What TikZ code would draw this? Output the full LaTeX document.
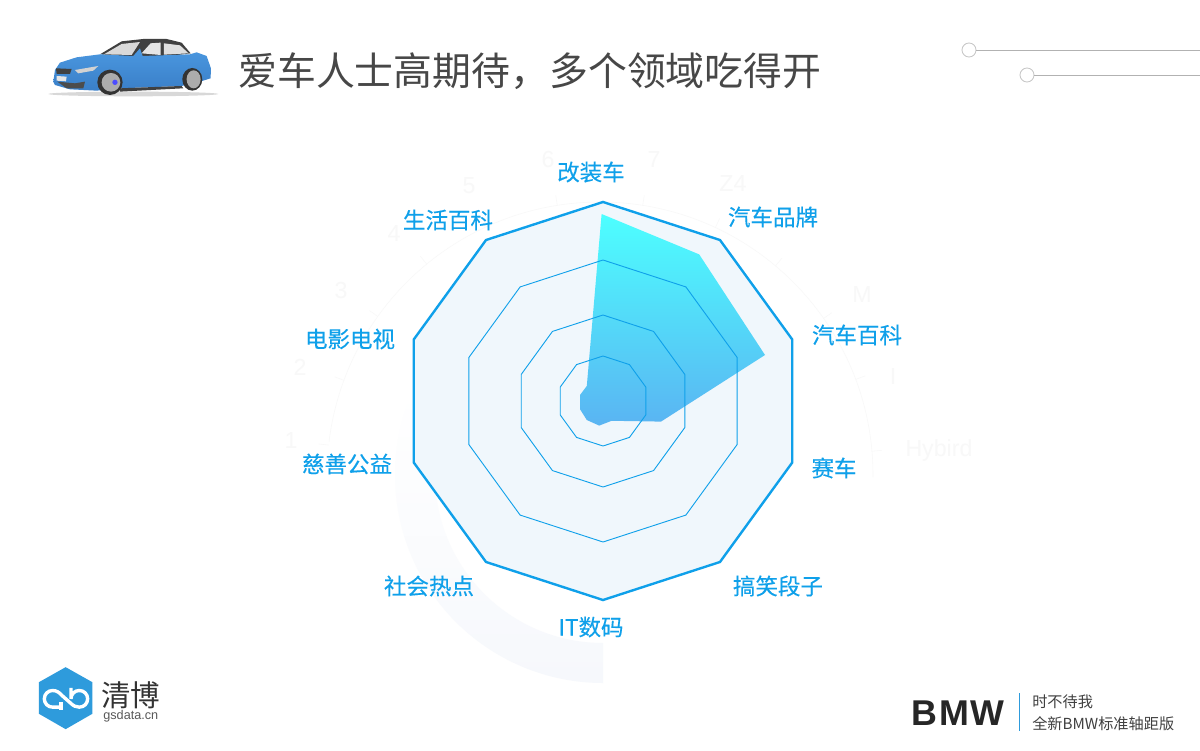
\documentclass[tikz,border=0pt]{standalone}
\usepackage{fontspec}
\setmainfont{Noto Sans CJK SC}
\newfontfamily\latinfont{Liberation Sans}
\newfontfamily\labelfont[FakeBold=0.3]{Noto Sans CJK SC}
\newfontfamily\bmwfont[LetterSpace=5]{Liberation Sans}
\usepackage{xcolor}
\usepackage{tikz}
\definecolor{radarblue}{HTML}{0FA0EA}
\definecolor{radarfill}{HTML}{F0F7FC}
\definecolor{faintgray}{HTML}{F8F8F8}
\definecolor{ringgray}{HTML}{F6F8FC}
\definecolor{logoblue}{HTML}{2E9BDC}
\definecolor{carblue}{HTML}{4B98E0}
\definecolor{cardark}{HTML}{3A7FC8}
\definecolor{topcyan}{HTML}{4DFFFF}
\definecolor{lowblue}{HTML}{5AB4F2}
\tikzset{
  axislabel/.style={text=radarblue,inner sep=0pt,font=\labelfont\fontsize{16}{16}\selectfont},
  faintlabel/.style={text=faintgray,inner sep=0pt,font=\latinfont\fontsize{16.5}{16}\selectfont},
  dotnode/.style={circle,draw=gray!45,fill=white,line width=0.6pt,minimum size=0.35cm,inner sep=0pt},
  dotline/.style={gray!60,line width=0.6pt}
}
\begin{document}
\begin{tikzpicture}
\useasboundingbox (0,0) rectangle (30,18.75);
\fill[white] (0,0) rectangle (30,18.75);
% pale ring behind the radar
\begin{scope}[shift={(15.075,6.875)}]
\shade[top color=white,middle color=ringgray,bottom color=ringgray] (155:5.2) arc[start angle=155,end angle=270,radius=5.2] -- (270:4.2) arc[start angle=270,end angle=155,radius=4.2] -- cycle;
\end{scope}
% faint dial
\begin{scope}[shift={(15,6.875)}]
\draw[faintgray,thin] (-0.5:6.825) arc[start angle=-0.5,end angle=173,radius=6.825];
\foreach \a in {5,20.5,35,50,65,81,99,114.5,129.4,144.5,159.7,173.7}
  \draw[faintgray,thin] (\a:6.825) -- (\a:7.075);
\end{scope}
\node[faintlabel] (one) at (7.275,7.725) {1};
\node[faintlabel] (two) at (7.5,9.575) {2};
\node[faintlabel] (three) at (8.525,11.475) {3};
\node[faintlabel] (four) at (9.85,12.9) {4};
\node[faintlabel] (five) at (11.725,14.1) {5};
\node[faintlabel] (six) at (13.7,14.75) {6};
\node[faintlabel] (seven) at (16.35,14.75) {7};
\node[faintlabel] (zfour) at (18.325,14.15) {Z4};
\node[faintlabel] (em) at (21.55,11.375) {M};
\node[faintlabel] (eye) at (22.325,9.325) {I};
\node[faintlabel] (hybird) at (23.475,7.5) {Hybird};
% radar
\begin{scope}[shift={(15.075,8.725)}]
\fill[radarfill] (90:4.975) \foreach \a in {54,18,...,-234} {-- (\a:4.975)} -- cycle;
\end{scope}
\shade[top color=topcyan,bottom color=lowblue] (15.04,13.4) -- (17.48,12.39) -- (19.125,9.875) -- (16.525,8.21) -- (15.29,8.23) -- (14.98,8.11) -- (14.67,8.25) -- (14.5,8.52) -- (14.5,8.875) -- (14.67,9.1) -- cycle;
\begin{scope}[shift={(15.075,8.725)}]
\draw[radarblue,line width=1.7pt] (90:4.975) \foreach \a in {54,18,...,-234} {-- (\a:4.975)} -- cycle;
\foreach \r in {3.525,2.15,1.125}
  \draw[radarblue,line width=0.65pt] (90:\r) \foreach \a in {54,18,...,-234} {-- (\a:\r)} -- cycle;
\end{scope}
\node[axislabel] (gaizhuang) at (14.775,14.45) {改装车};
\node[axislabel] (pinpai) at (19.325,13.325) {汽车品牌};
\node[axislabel] (baike) at (21.425,10.375) {汽车百科};
\node[axislabel] (saiche) at (20.85,7.05) {赛车};
\node[axislabel] (gaoxiao) at (19.45,4.1) {搞笑段子};
\node[axislabel] (shuma) at (14.775,3.075) {IT数码};
\node[axislabel] (redian) at (10.725,4.1) {社会热点};
\node[axislabel] (cishan) at (8.675,7.15) {慈善公益};
\node[axislabel] (dianying) at (8.75,10.275) {电影电视};
\node[axislabel] (shenghuo) at (11.2,13.25) {生活百科};
% title
\node[anchor=west,inner sep=0pt,text=black!72,font=\fontsize{27.65}{28}\selectfont] (title) at (5.95,16.975) {爱车人士高期待，多个领域吃得开};
% top right marks
\node[dotnode] (dota) at (24.225,17.5) {};
\node[dotnode] (dotb) at (25.675,16.875) {};
\coordinate (enda) at (30,17.5);
\coordinate (endb) at (30,16.875);
\draw[dotline] (dota) -- (enda);
\draw[dotline] (dotb) -- (endb);
% car
\begin{scope}[x=0.008333cm,y=-0.008333cm,yshift=18.25cm]
\fill[black!30,opacity=0.5] (400,222) ellipse (255 and 7);
\fill[black!75] (300,103) -- (365,64) -- (430,57) -- (500,57) -- (545,68) -- (572,100) -- (480,112) -- (405,112) -- cycle;
\shade[top color=carblue,bottom color=cardark] (160,185) -- (165,150) -- (180,128) -- (230,112) -- (300,103) -- (400,108) -- (420,85) -- (428,108) -- (570,103) -- (590,97) -- (620,108) -- (633,145) -- (632,175) -- (600,185) -- (545,198) -- (360,205) -- (290,212) -- (210,208) -- (165,195) -- cycle;
\fill[gray!30] (312,103) -- (365,72) -- (420,66) -- (395,105) -- cycle;
\fill[gray!20] (425,100) -- (452,70) -- (482,68) -- (482,105) -- cycle;
\fill[gray!25] (492,104) -- (492,70) -- (540,76) -- (566,100) -- cycle;
\fill[black!75] (168,145) -- (215,147) -- (210,162) -- (170,162) -- cycle;
\fill[gray!35] (225,150) -- (295,138) -- (280,152) -- (235,160) -- cycle;
\fill[black!70] (172,185) -- (225,190) -- (255,185) -- (250,205) -- (200,205) -- cycle;
\fill[gray!20] (170,168) -- (200,170) -- (198,184) -- (170,182) -- cycle;
\fill[black!75] (360,205) -- (545,198) -- (550,205) -- (360,215) -- cycle;
\fill[black!80] (330,187) circle (38);
\fill[gray!65] (333,187) circle (28);
\fill[blue!70] (345,187) circle (8);
\fill[black!80] (577,178) ellipse (30 and 34);
\fill[gray!65] (581,178) ellipse (21 and 27);
\end{scope}
% logo
\begin{scope}[x=0.008333cm,y=-0.008333cm,yshift=18.75cm-650*0.025cm]
\fill[logoblue] (197,52) -- (277,97) -- (277,192) -- (197,238) -- (117,192) -- (117,97) -- cycle;
\draw[white,line width=2.4pt] (183,172) -- (158,172) .. controls (144,172) and (133,161) .. (133,147) .. controls (133,133) and (144,122) .. (158,122) .. controls (170,122) and (178,128) .. (186,137) -- (212,160) .. controls (220,168) and (228,172) .. (238,172) .. controls (252,172) and (263,161) .. (263,147) .. controls (263,133) and (252,122) .. (238,122) .. controls (224,122) and (213,133) .. (213,147) -- (213,114);
\draw[white,line width=2.4pt] (183,158) -- (183,182);
\end{scope}
\node[anchor=center,inner sep=0pt,text=black!80,font=\fontsize{21}{21}\selectfont] (qingbo) at (3.27,1.375) {清博};
\node[anchor=center,inner sep=0pt,text=black!65,font=\latinfont\fontsize{9}{9}\selectfont] (gsdata) at (3.27,0.85) {gsdata.cn};
% bottom right mark
\node[anchor=center,inner sep=0pt,text=black!85,font=\bmwfont\bfseries\fontsize{25.5}{26}\selectfont] (bmw) at (23.95,0.925) {BMW};
\coordinate (bara) at (25.475,1.425);
\coordinate (barb) at (25.475,0.475);
\draw[logoblue,line width=0.6pt] (bara) -- (barb);
\node[anchor=west,inner sep=0pt,text=black!75,font=\fontsize{10.8}{10}\selectfont] (slogan) at (25.8,1.2) {时不待我};
\node[anchor=west,inner sep=0pt,text=black!75,font=\fontsize{10.8}{10}\selectfont] (edition) at (25.8,0.65) {全新BMW标准轴距版};
\end{tikzpicture}
\end{document}
